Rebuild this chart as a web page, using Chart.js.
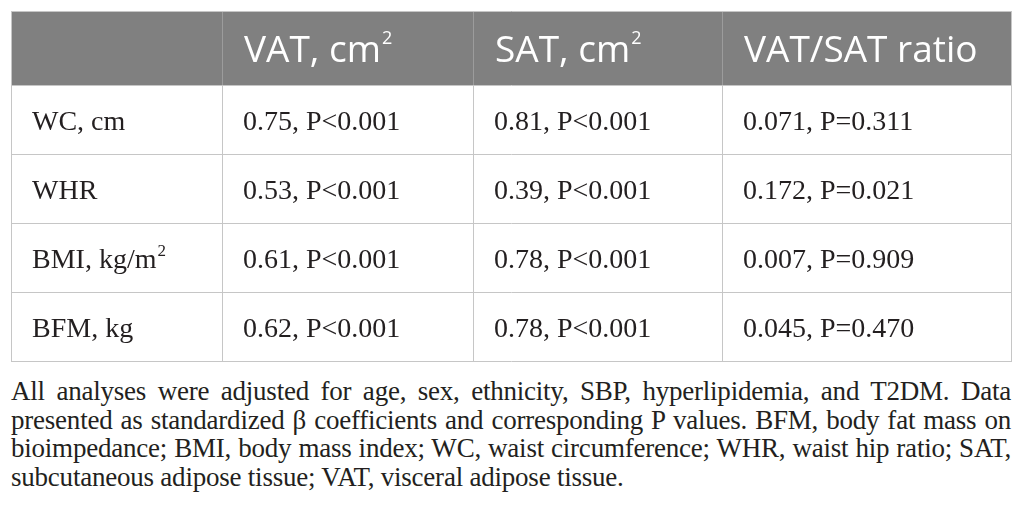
<!DOCTYPE html>
<html lang="en">
<head>
    <meta charset="UTF-8">
    <title>VAT / SAT associations</title>
    <script src="https://cdn.jsdelivr.net/npm/chart.js"></script>
    <style>
        html, body { margin: 0; padding: 0; background: #fff; }
        #wrap { position: relative; width: 1026px; height: 521px; }
        #tbl { position: absolute; left: 0; top: 0; }
        #note {
            position: absolute; left: 11px; top: 377px; width: 1000px;
            font-family: "Liberation Serif", "DejaVu Serif", serif;
            font-size: 27px; line-height: 28.5px; color: #231f20;
            letter-spacing: -0.22px;
        }
        #note div { text-align: justify; text-align-last: justify; white-space: nowrap; }
        #note div:last-child { text-align-last: left; }
    </style>
</head>
<body>
<div id="wrap">
    <canvas id="tbl" width="1026" height="365"></canvas>
    <div id="note"></div>
</div>
<script>
    // Table content
    const headerLabels = ['', 'VAT, cm²', 'SAT, cm²', 'VAT/SAT ratio'];
    const rowLabels = ['WC, cm', 'WHR', 'BMI, kg/m²', 'BFM, kg'];
    const vatBeta = [0.75, 0.53, 0.61, 0.62];
    const vatP = ['<0.001', '<0.001', '<0.001', '<0.001'];
    const satBeta = [0.81, 0.39, 0.78, 0.78];
    const satP = ['<0.001', '<0.001', '<0.001', '<0.001'];
    const ratioBeta = [0.071, 0.172, 0.007, 0.045];
    const ratioP = [0.311, 0.021, 0.909, 0.470];
    const noteLines = [
        'All analyses were adjusted for age, sex, ethnicity, SBP, hyperlipidemia, and T2DM. Data',
        'presented as standardized β coefficients and corresponding P values. BFM, body fat mass on',
        'bioimpedance; BMI, body mass index; WC, waist circumference; WHR, waist hip ratio; SAT,',
        'subcutaneous adipose tissue; VAT, visceral adipose tissue.'
    ];

    // column / row boundaries on the hidden linear scales
    const colEdges = [0, 211, 462, 711, 1000];
    const rowEdges = [0, 74, 143, 212, 281, 350];

    const cellText = rowLabels.map((label, i) => [
        label,
        vatBeta[i].toFixed(2) + ', P' + vatP[i],
        satBeta[i].toFixed(2) + ', P' + satP[i],
        ratioBeta[i].toFixed(3) + ', P=' + ratioP[i].toFixed(3)
    ]);

    // draws text, turning "²" into a raised small 2
    function drawRich(ctx, text, x, y, font, supFont, raise) {
        const parts = text.split('²');
        parts.forEach((part, i) => {
            ctx.font = font;
            ctx.fillText(part, x, y);
            x += ctx.measureText(part).width;
            if (i < parts.length - 1) {
                ctx.font = supFont;
                ctx.fillText('2', x + 1, y - raise);
                x += ctx.measureText('2').width + 1;
            }
        });
    }

    const tablePlugin = {
        id: 'tableCells',
        afterDraw(chart) {
            const { ctx, scales: { x, y } } = chart;
            const xs = colEdges.map(v => Math.round(x.getPixelForValue(v)));
            const ys = rowEdges.map(v => Math.round(y.getPixelForValue(v)));
            const left = xs[0], right = xs[xs.length - 1];
            const top = ys[0], bottom = ys[ys.length - 1];
            ctx.save();

            // header band
            ctx.fillStyle = '#808080';
            ctx.fillRect(left, top, right - left, ys[1] - top);

            // grid
            ctx.lineWidth = 1;
            ctx.strokeStyle = '#c6c6c6';
            ctx.beginPath();
            ys.forEach(py => { ctx.moveTo(left, py + 0.5); ctx.lineTo(right + 1, py + 0.5); });
            xs.forEach((px, i) => {
                const y0 = (i === 0 || i === xs.length - 1) ? top : ys[1];
                ctx.moveTo(px + 0.5, y0); ctx.lineTo(px + 0.5, bottom + 1);
            });
            ctx.stroke();
            ctx.strokeStyle = '#9c9c9c';
            ctx.beginPath();
            xs.slice(1, -1).forEach(px => { ctx.moveTo(px + 0.5, top + 1); ctx.lineTo(px + 0.5, ys[1]); });
            ctx.stroke();

            // header text
            const hFont = '37px "Open Sans"';
            ctx.font = hFont;
            const hCap = ctx.measureText('H').actualBoundingBoxAscent;
            ctx.fillStyle = '#ffffff';
            ctx.textBaseline = 'alphabetic';
            headerLabels.forEach((label, c) => {
                if (!label) return;
                const by = (ys[0] + ys[1]) / 2 + hCap / 2 + 1;
                drawRich(ctx, label, xs[c] + 22, by, hFont, '18px "Open Sans"', 18);
            });

            // body text
            const bFont = '28px "Liberation Serif"';
            ctx.font = bFont;
            const bCap = ctx.measureText('H').actualBoundingBoxAscent;
            ctx.fillStyle = '#231f20';
            cellText.forEach((row, r) => {
                const by = (ys[r + 1] + ys[r + 2]) / 2 + bCap / 2 + 1;
                row.forEach((txt, c) => {
                    drawRich(ctx, txt, xs[c] + 21, by, bFont, '17px "Liberation Serif"', 12);
                });
            });
            ctx.restore();
        }
    };

    const chart = new Chart(document.getElementById('tbl').getContext('2d'), {
        type: 'scatter',
        data: { datasets: [] },
        options: {
            responsive: false,
            animation: false,
            layout: { padding: { left: 11, top: 11, right: 15, bottom: 4 } },
            plugins: { legend: { display: false }, tooltip: { enabled: false } },
            scales: {
                x: { type: 'linear', min: 0, max: 1000, display: false },
                y: { type: 'linear', min: 0, max: 350, reverse: true, display: false }
            }
        },
        plugins: [tablePlugin]
    });

    const note = document.getElementById('note');
    noteLines.forEach(line => {
        const d = document.createElement('div');
        d.textContent = line;
        note.appendChild(d);
    });
</script>
</body>
</html>
